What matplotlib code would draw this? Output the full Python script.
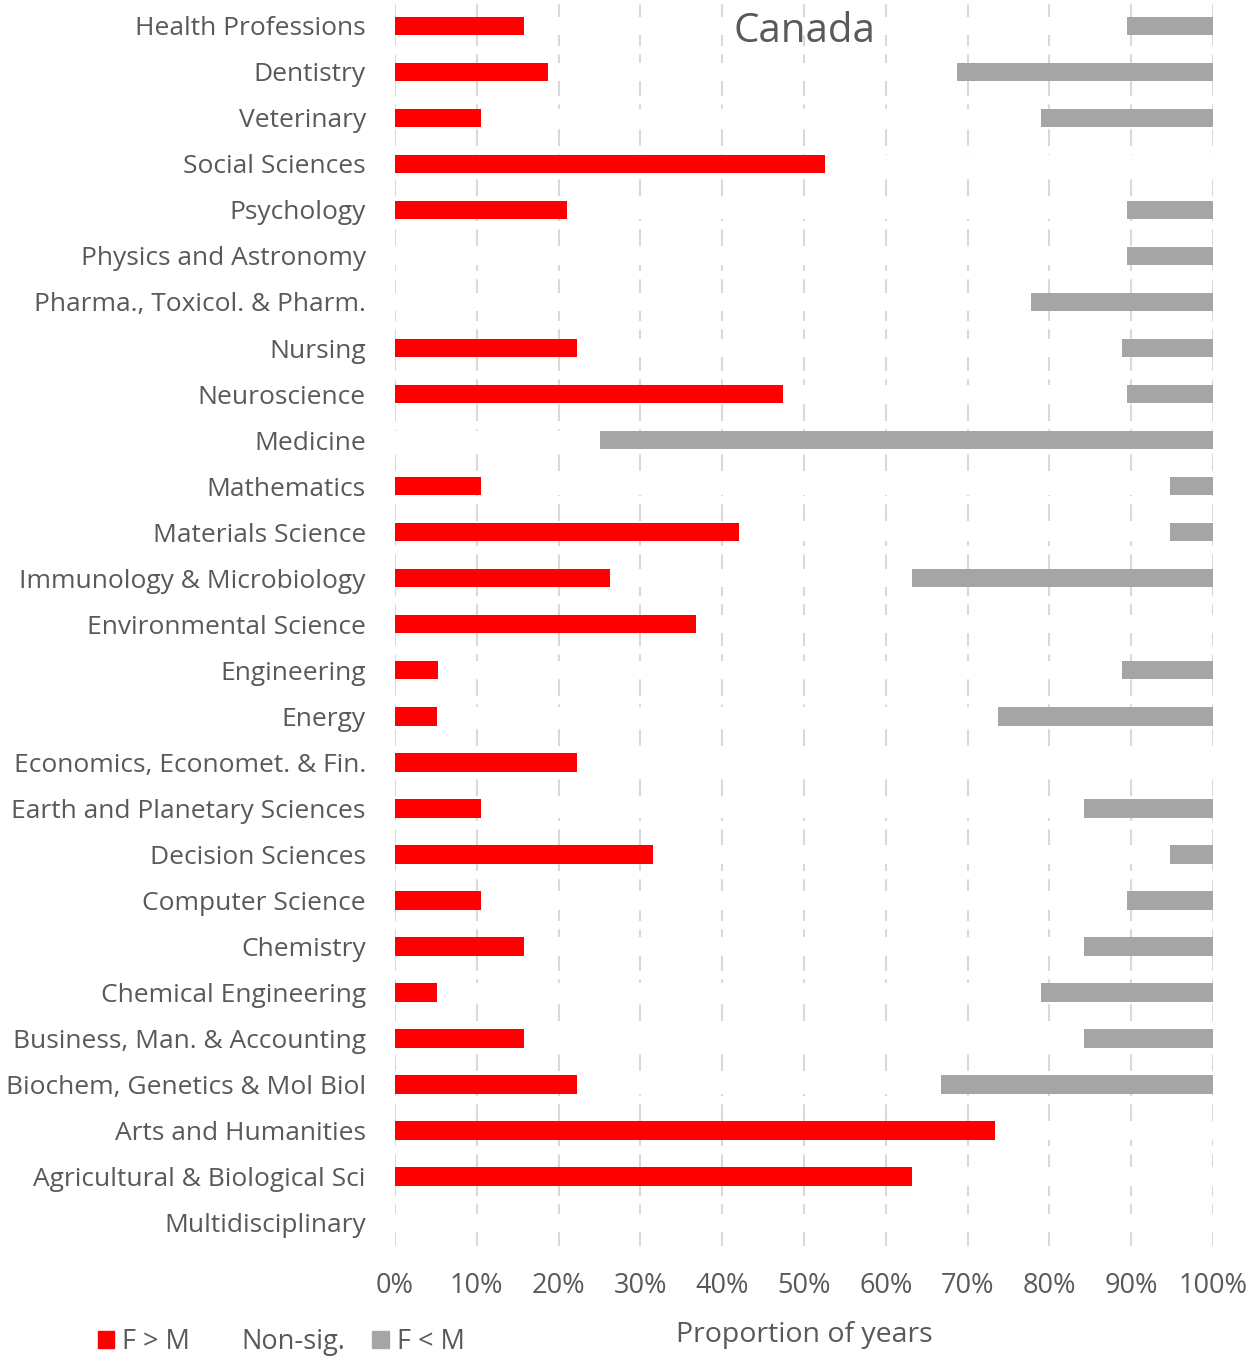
import numpy as np
import matplotlib.pyplot as plt
from matplotlib.patches import Patch

plt.rcParams['font.family'] = ['Open Sans', 'DejaVu Sans']

# Categories listed from top to bottom
categories = [
    "Health Professions", "Dentistry", "Veterinary", "Social Sciences",
    "Psychology", "Physics and Astronomy", "Pharma., Toxicol. & Pharm.",
    "Nursing", "Neuroscience", "Medicine", "Mathematics", "Materials Science",
    "Immunology & Microbiology", "Environmental Science", "Engineering",
    "Energy", "Economics, Economet. & Fin.", "Earth and Planetary Sciences",
    "Decision Sciences", "Computer Science", "Chemistry",
    "Chemical Engineering", "Business, Man. & Accounting",
    "Biochem, Genetics & Mol Biol", "Arts and Humanities",
    "Agricultural & Biological Sci", "Multidisciplinary",
]

# proportion of years (%)
f_gt_m = [15.8, 18.75, 10.5, 52.6, 21.05, 0, 0, 22.2, 47.4, 0, 10.5, 42.1,
          26.3, 36.8, 5.3, 5.1, 22.2, 10.5, 31.6, 10.5, 15.8, 5.1, 15.8,
          22.2, 73.4, 63.2, 0]
f_lt_m = [10.5, 31.25, 21.05, 0, 10.5, 10.5, 22.2, 11.1, 10.5, 75.0, 5.3,
          5.3, 36.8, 0, 11.1, 26.3, 0, 15.8, 5.3, 10.5, 15.8, 21.05, 15.8,
          33.3, 0, 0, 0]
f_gt_m = np.array(f_gt_m)
f_lt_m = np.array(f_lt_m)
non_sig = 100 - f_gt_m - f_lt_m

red = "#ff0000"
gray = "#a5a5a5"
txt = "#595959"

fig = plt.figure(figsize=(12.5, 13.6), dpi=100)
ax = fig.add_axes([0.316, 0.084, 0.6544, 0.9140])

y = np.arange(len(categories))
h = 0.4
ax.barh(y, f_gt_m, height=h, color=red, zorder=3)
ax.barh(y, non_sig, left=f_gt_m, height=h, color="white", zorder=3)
ax.barh(y, f_lt_m, left=f_gt_m + non_sig, height=h, color=gray, zorder=3)

ax.set_ylim(len(categories) - 0.5, -0.5)
ax.set_xlim(0, 100)
ax.set_yticks(y)
ax.set_yticklabels(categories, fontsize=19, color=txt)
ax.set_xticks(np.arange(0, 101, 10))
ax.set_xticklabels([f"{v}%" for v in range(0, 101, 10)], fontsize=19.5, color=txt)
ax.tick_params(length=0)
ax.tick_params(axis="y", pad=21)
ax.tick_params(axis="x", pad=19)

ax.grid(axis="x", color="#d9d9d9", linestyle=(0, (8, 4)), linewidth=1.5, zorder=0)
for s in ax.spines.values():
    s.set_visible(False)

ax.set_xlabel("Proportion of years", fontsize=20.5, color=txt, labelpad=15)
ax.text(0.5, 0.993, "Canada", transform=ax.transAxes, ha="center", va="top",
        fontsize=29, color=txt)

handles = [Patch(color=red), Patch(color="white"), Patch(color=gray)]
fig.legend(handles, ["F > M", "Non-sig.", "F < M"], loc="center",
           bbox_to_anchor=(0.225, 0.013), ncol=3, frameon=False, fontsize=19.5,
           labelcolor=txt, handlelength=0.6, handleheight=0.6,
           handletextpad=0.3, columnspacing=1.0)

fig.savefig("out.png", dpi=100)
